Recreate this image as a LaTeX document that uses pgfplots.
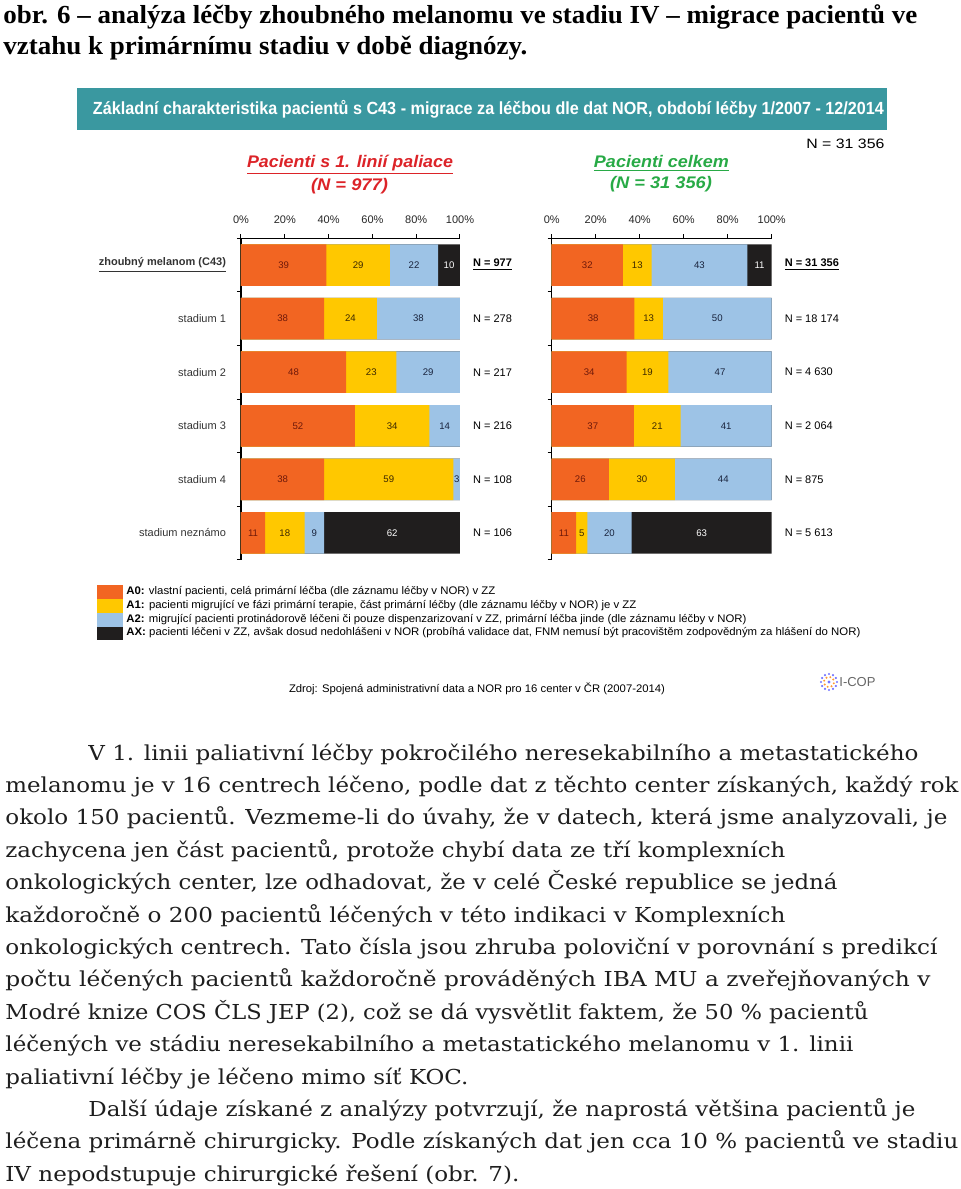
\documentclass[border=0pt]{standalone}
\usepackage{pgfplots}
\pgfplotsset{compat=1.18}
\usepackage{pgfplotstable}
\usepackage{graphicx}
\usepackage{fontspec}
\setmainfont{Liberation Sans}
\newfontfamily\sans{Liberation Sans}
\newfontfamily\bodyf{DejaVu Serif}
\newfontfamily\headf{Liberation Serif}

\definecolor{cA0}{RGB}{242,101,34}
\definecolor{cA1}{RGB}{255,200,0}
\definecolor{cA2}{RGB}{157,195,230}
\definecolor{cAX}{RGB}{32,30,30}
\definecolor{teal1}{RGB}{58,152,160}
\definecolor{tred}{RGB}{220,35,40}
\definecolor{tgreen}{RGB}{40,170,70}
\definecolor{lA0}{RGB}{110,25,10}
\definecolor{lA1}{RGB}{60,40,0}
\definecolor{lA2}{RGB}{25,35,60}
\definecolor{bodyc}{RGB}{30,30,30}

% shares (%) per row; the bars are drawn as shares of each row's total
\pgfplotstableread{
y A0 A1 A2 AX
5 39 29 22 10
4 38 24 38 0
3 48 23 29 0
2 52 34 14 0
1 38 59 3 0
0 11 18 9 62
}\leftdata
\pgfplotstableread{
y A0 A1 A2 AX
5 32 13 43 11
4 38 13 50 0
3 34 19 47 0
2 37 21 41 0
1 26 30 44 0
0 11 5 20 63
}\rightdata
\pgfplotstablecreatecol[create col/expr={\thisrow{A0}+\thisrow{A1}+\thisrow{A2}+\thisrow{AX}}]{T}\leftdata
\pgfplotstablecreatecol[create col/expr={\thisrow{A0}+\thisrow{A1}+\thisrow{A2}+\thisrow{AX}}]{T}\rightdata

\newcommand\tinyfont{\sans\fontsize{5.5}{6.5}\selectfont}
\newcommand\barfont{\sans\fontsize{4.8}{5.2}\selectfont}
\newcommand\bodyfont{\bodyf\fontsize{10.3}{12}\selectfont\color{bodyc}}

\tikzset{nlab/.style={anchor=west, font=\tinyfont, xshift=3pt}}

\pgfplotsset{
  panel/.style={
    scale only axis, height=160.8pt,
    xmin=0, xmax=100, ymin=-0.5, ymax=5.5,
    axis x line*=top, axis y line*=left,
    axis line style={black, line width=0.6pt},
    xtick={0,20,40,60,80,100},
    xticklabels={0\%,20\%,40\%,60\%,80\%,100\%},
    tick align=outside,
    major tick length=2pt,
    tick style={black, line width=0.5pt},
    ytick={-0.5,0.5,1.5,2.5,3.5,4.5,5.5},
    yticklabels={},
    tick label style={font=\tinyfont, text=black!85},
    xticklabel style={yshift=2pt},
    clip=false,
    /pgf/number format/assume math mode=true,
  },
  seg/.style={xbar, bar width=20.75pt, bar shift=0pt, draw=none, fill=#1},
  lab/.style={draw=none, mark=none, point meta=explicit symbolic,
    nodes near coords={\ifnum\pgfplotspointmeta=0 \else\pgfplotspointmeta\fi},
    nodes near coords align={center},
    every node near coord/.append style={anchor=center, font=\barfont, text=#1, inner sep=0pt}},
}

\begin{document}
\begin{tikzpicture}
\path[use as bounding box] (0,0) rectangle (480pt,-594.5pt);

\begin{scope}[x=0.5pt,y=-0.5pt]
% heading
\node[anchor=base west, inner sep=0] at (3,23) {\resizebox{457pt}{\height}{\headf\bfseries\fontsize{13}{15}\selectfont obr. 6 – analýza léčby zhoubného melanomu ve stadiu IV – migrace pacientů ve}};
\node[anchor=base west, inner sep=0] at (3,54) {\resizebox{262pt}{\height}{\headf\bfseries\fontsize{13}{15}\selectfont vztahu k primárnímu stadiu v době diagnózy.}};

% banner
\fill[teal1] (77,88) rectangle (887,130);
\node[inner sep=0, text=white] at (488.5,109) {\resizebox{395.5pt}{\height}{\sans\bfseries\fontsize{8.8}{10}\selectfont Základní charakteristika pacientů s C43 - migrace za léčbou dle dat NOR, období léčby 1/2007 - 12/2014}};

\node[anchor=west, inner sep=0] at (806,144) {\resizebox{39pt}{\height}{\sans\fontsize{6.8}{7.5}\selectfont N = 31 356}};

\node[inner sep=0, text=tred] at (350,165) {\resizebox{103pt}{\height}{\sans\bfseries\itshape\fontsize{8.4}{9}\selectfont\underline{Pacienti s 1. linií paliace}}};
\node[inner sep=0, text=tred] at (349.5,186) {\resizebox{38.5pt}{\height}{\sans\bfseries\itshape\fontsize{8.4}{9}\selectfont (N = 977)}};
\node[inner sep=0, text=tgreen] at (661.5,163) {\resizebox{67.5pt}{\height}{\sans\bfseries\itshape\fontsize{8.4}{9}\selectfont\underline{Pacienti celkem}}};
\node[inner sep=0, text=tgreen] at (661,184) {\resizebox{51pt}{\height}{\sans\bfseries\itshape\fontsize{8.4}{9}\selectfont (N = 31 356)}};

% legend
\fill[cA0] (97,585) rectangle (123,598.5);
\fill[cA1] (97,598.5) rectangle (123,612.5);
\fill[cA2] (97,612.5) rectangle (123,626.5);
\fill[cAX] (97,626.5) rectangle (123,640);
\node[anchor=west, inner sep=0] at (126,592) {\resizebox{184.5pt}{\height}{\tinyfont\textbf{A0:} vlastní pacienti, celá primární léčba (dle záznamu léčby v NOR) v ZZ}};
\node[anchor=west, inner sep=0] at (126,606) {\resizebox{255pt}{\height}{\tinyfont\textbf{A1:} pacienti migrující ve fázi primární terapie, část primární léčby (dle záznamu léčby v NOR) je v ZZ}};
\node[anchor=west, inner sep=0] at (126,620) {\resizebox{310pt}{\height}{\tinyfont\textbf{A2:} migrující pacienti protinádorově léčeni či pouze dispenzarizovaní v ZZ, primární léčba jinde (dle záznamu léčby v NOR)}};
\node[anchor=west, inner sep=0] at (126,633) {\resizebox{367pt}{\height}{\tinyfont\textbf{AX:} pacienti léčeni v ZZ, avšak dosud nedohlášeni v NOR (probíhá validace dat, FNM nemusí být pracovištěm zodpovědným za hlášení do NOR)}};

% source
\node[inner sep=0] at (477,689) {\resizebox{188pt}{\height}{\tinyfont Zdroj: Spojená administrativní data a NOR pro 16 center v ČR (2007-2014)}};

% logo
\foreach \a in {0,30,...,330} \fill[blue!55] ({829+8*cos(\a)},{682+8*sin(\a)}) circle[radius=0.6pt];
\foreach \a in {15,60,...,330} \fill[orange!80] ({829+5*cos(\a)},{682+5*sin(\a)}) circle[radius=0.55pt];
\fill[blue!55] (829,682) circle[radius=0.8pt];
\node[anchor=west, inner sep=0, text=black!60] at (839,682) {\sans\fontsize{6.5}{7.5}\selectfont I-COP};

% body text
\node[anchor=base west, inner sep=0] at (88,760) {\resizebox{415pt}{\height}{\bodyfont V 1. linii paliativní léčby pokročilého neresekabilního a metastatického}};
\node[anchor=base west, inner sep=0] at (5,792.4) {\resizebox{476.5pt}{\height}{\bodyfont melanomu je v 16 centrech léčeno, podle dat z těchto center získaných, každý rok}};
\node[anchor=base west, inner sep=0] at (5,824.8) {\resizebox{471pt}{\height}{\bodyfont okolo 150 pacientů. Vezmeme-li do úvahy, že v datech, která jsme analyzovali, je}};
\node[anchor=base west, inner sep=0] at (5,857.2) {\resizebox{390pt}{\height}{\bodyfont zachycena jen část pacientů, protože chybí data ze tří komplexních}};
\node[anchor=base west, inner sep=0] at (5,889.6) {\resizebox{416pt}{\height}{\bodyfont onkologických center, lze odhadovat, že v celé České republice se jedná}};
\node[anchor=base west, inner sep=0] at (5,922) {\resizebox{390pt}{\height}{\bodyfont každoročně o 200 pacientů léčených v této indikaci v Komplexních}};
\node[anchor=base west, inner sep=0] at (5,954.4) {\resizebox{466pt}{\height}{\bodyfont onkologických centrech. Tato čísla jsou zhruba poloviční v porovnání s predikcí}};
\node[anchor=base west, inner sep=0] at (5,986.8) {\resizebox{462.5pt}{\height}{\bodyfont počtu léčených pacientů každoročně prováděných IBA MU a zveřejňovaných v}};
\node[anchor=base west, inner sep=0] at (5,1019.2) {\resizebox{431.5pt}{\height}{\bodyfont Modré knize COS ČLS JEP (2), což se dá vysvětlit faktem, že 50 \% pacientů}};
\node[anchor=base west, inner sep=0] at (5,1051.6) {\resizebox{424pt}{\height}{\bodyfont léčených ve stádiu neresekabilního a metastatického melanomu v 1. linii}};
\node[anchor=base west, inner sep=0] at (5,1084) {\resizebox{231.5pt}{\height}{\bodyfont paliativní léčby je léčeno mimo síť KOC.}};
\node[anchor=base west, inner sep=0] at (88,1116.4) {\resizebox{413.5pt}{\height}{\bodyfont Další údaje získané z analýzy potvrzují, že naprostá většina pacientů je}};
\node[anchor=base west, inner sep=0] at (5,1148.8) {\resizebox{476.5pt}{\height}{\bodyfont léčena primárně chirurgicky. Podle získaných dat jen cca 10 \% pacientů ve stadiu}};
\node[anchor=base west, inner sep=0] at (5,1181.2) {\resizebox{257pt}{\height}{\bodyfont IV nepodstupuje chirurgické řešení (obr. 7).}};
\end{scope}

% left panel
\begin{axis}[panel, width=109.5pt, at={(120.5pt,-119.1pt)}, anchor=north west,
  extra y ticks={0,1,2,3,4,5},
  extra y tick labels={stadium neznámo,stadium 4,stadium 3,stadium 2,stadium 1,{\textbf{\underline{zhoubný melanom (C43)}}}},
  extra y tick style={major tick length=0pt, yticklabel style={xshift=-4pt, text=black!80}}]
\addplot[seg=cAX] table[x expr=100*(\thisrow{A0}+\thisrow{A1}+\thisrow{A2}+\thisrow{AX})/\thisrow{T}, y=y]{\leftdata};
\addplot[seg=cA2] table[x expr=100*(\thisrow{A0}+\thisrow{A1}+\thisrow{A2})/\thisrow{T}, y=y]{\leftdata};
\addplot[seg=cA1] table[x expr=100*(\thisrow{A0}+\thisrow{A1})/\thisrow{T}, y=y]{\leftdata};
\addplot[seg=cA0] table[x expr=100*\thisrow{A0}/\thisrow{T}, y=y]{\leftdata};
\addplot[lab=lA0] table[x expr=100*(\thisrow{A0}/2)/\thisrow{T}, y=y, meta=A0]{\leftdata};
\addplot[lab=lA1] table[x expr=100*(\thisrow{A0}+\thisrow{A1}/2)/\thisrow{T}, y=y, meta=A1]{\leftdata};
\addplot[lab=lA2] table[x expr=100*(\thisrow{A0}+\thisrow{A1}+\thisrow{A2}/2)/\thisrow{T}, y=y, meta=A2]{\leftdata};
\addplot[lab=white] table[x expr=100*(\thisrow{A0}+\thisrow{A1}+\thisrow{A2}+\thisrow{AX}/2)/\thisrow{T}, y=y, meta=AX]{\leftdata};
\node[nlab] at (axis cs:100,5) {\textbf{\underline{N = 977}}};
\node[nlab] at (axis cs:100,4) {N = 278};
\node[nlab] at (axis cs:100,3) {N = 217};
\node[nlab] at (axis cs:100,2) {N = 216};
\node[nlab] at (axis cs:100,1) {N = 108};
\node[nlab] at (axis cs:100,0) {N = 106};
\end{axis}

% right panel
\begin{axis}[panel, width=110pt, at={(275.85pt,-119.1pt)}, anchor=north west]
\addplot[seg=cAX] table[x expr=100*(\thisrow{A0}+\thisrow{A1}+\thisrow{A2}+\thisrow{AX})/\thisrow{T}, y=y]{\rightdata};
\addplot[seg=cA2] table[x expr=100*(\thisrow{A0}+\thisrow{A1}+\thisrow{A2})/\thisrow{T}, y=y]{\rightdata};
\addplot[seg=cA1] table[x expr=100*(\thisrow{A0}+\thisrow{A1})/\thisrow{T}, y=y]{\rightdata};
\addplot[seg=cA0] table[x expr=100*\thisrow{A0}/\thisrow{T}, y=y]{\rightdata};
\addplot[lab=lA0] table[x expr=100*(\thisrow{A0}/2)/\thisrow{T}, y=y, meta=A0]{\rightdata};
\addplot[lab=lA1] table[x expr=100*(\thisrow{A0}+\thisrow{A1}/2)/\thisrow{T}, y=y, meta=A1]{\rightdata};
\addplot[lab=lA2] table[x expr=100*(\thisrow{A0}+\thisrow{A1}+\thisrow{A2}/2)/\thisrow{T}, y=y, meta=A2]{\rightdata};
\addplot[lab=white] table[x expr=100*(\thisrow{A0}+\thisrow{A1}+\thisrow{A2}+\thisrow{AX}/2)/\thisrow{T}, y=y, meta=AX]{\rightdata};
\node[nlab] at (axis cs:100,5) {\textbf{\underline{N = 31 356}}};
\node[nlab] at (axis cs:100,4) {N = 18 174};
\node[nlab] at (axis cs:100,3) {N = 4 630};
\node[nlab] at (axis cs:100,2) {N = 2 064};
\node[nlab] at (axis cs:100,1) {N = 875};
\node[nlab] at (axis cs:100,0) {N = 5 613};
\end{axis}
\end{tikzpicture}
\end{document}
